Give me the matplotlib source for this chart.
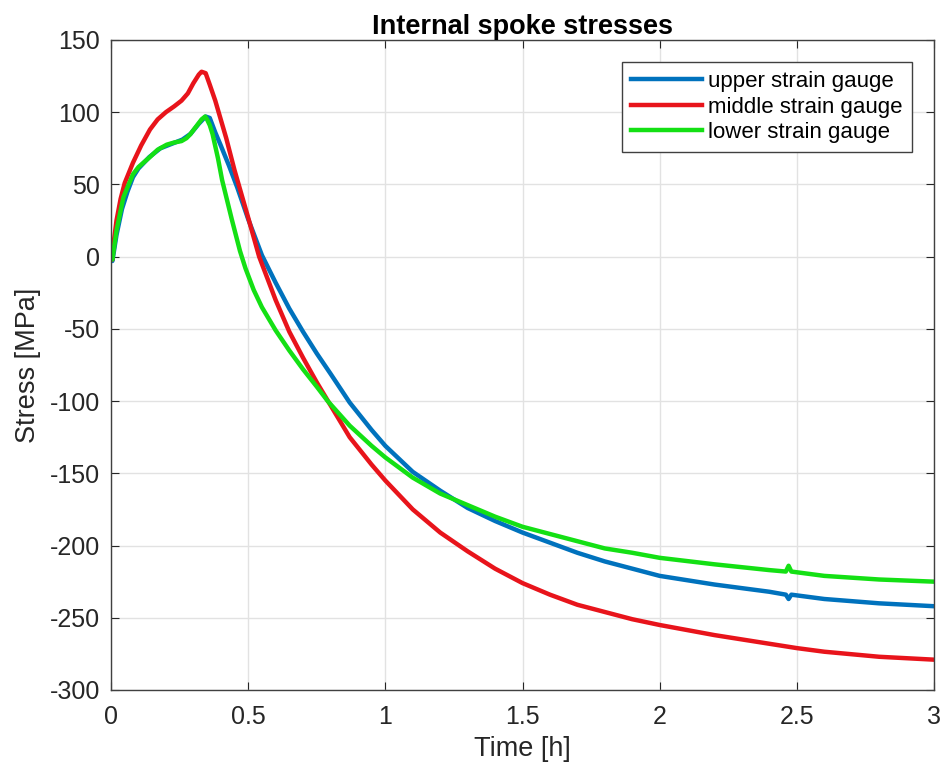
import numpy as np
import matplotlib
matplotlib.use("Agg")
import matplotlib.pyplot as plt

plt.rcParams['font.family'] = ['Liberation Sans', 'DejaVu Sans']
plt.rcParams['axes.unicode_minus'] = False

# upper strain gauge
t_upper = [0, 0.005, 0.01, 0.02, 0.04, 0.06, 0.08, 0.1, 0.14, 0.18, 0.22, 0.26, 0.29,
           0.32, 0.345, 0.36, 0.38, 0.4, 0.43, 0.46, 0.5, 0.55, 0.6, 0.65, 0.7, 0.75,
           0.8, 0.87, 0.95, 1.0, 1.1, 1.2, 1.3, 1.4, 1.5, 1.6, 1.7, 1.8, 1.9, 2.0,
           2.2, 2.4, 2.46, 2.47, 2.48, 2.6, 2.8, 3.0]
s_upper = [0, -3, 3, 15, 33, 45, 55, 61, 69, 75, 78, 81, 85,
           92, 97, 96, 86, 77, 63, 48, 26, 1, -18, -36, -52, -67,
           -81, -101, -120, -131, -149, -162, -174, -183, -191, -198, -205, -211, -216, -221,
           -227, -232, -234, -237, -234, -237, -240, -242]

# middle strain gauge
t_middle = [0, 0.005, 0.01, 0.02, 0.035, 0.05, 0.08, 0.11, 0.142, 0.17, 0.2, 0.23, 0.257,
            0.28, 0.3, 0.32, 0.33, 0.345, 0.36, 0.38, 0.4, 0.42, 0.45, 0.5, 0.54, 0.6,
            0.65, 0.7, 0.75, 0.81, 0.87, 0.95, 1.0, 1.1, 1.2, 1.3, 1.4, 1.5, 1.6, 1.7,
            1.8, 1.9, 2.0, 2.2, 2.4, 2.5, 2.6, 2.8, 3.0]
s_middle = [0, -2, 10, 25, 40, 51, 65, 77, 88, 95, 100, 104, 108,
            113, 120, 126, 128, 127, 119, 108, 95, 82, 60, 27, 0, -30,
            -52, -70, -87, -106, -125, -144, -155, -175, -191, -204, -216, -226, -234, -241,
            -246, -251, -255, -262, -268, -271, -273.5, -277, -279]

# lower strain gauge
t_lower = [0, 0.005, 0.01, 0.02, 0.045, 0.06, 0.08, 0.1, 0.142, 0.17, 0.203, 0.23, 0.257,
           0.275, 0.288, 0.31, 0.33, 0.343, 0.35, 0.36, 0.37, 0.39, 0.405, 0.44, 0.47, 0.49,
           0.52, 0.55, 0.6, 0.65, 0.7, 0.75, 0.79, 0.87, 0.95, 1.0, 1.1, 1.2, 1.3, 1.4, 1.5,
           1.6, 1.7, 1.8, 1.9, 2.0, 2.2, 2.4, 2.46, 2.47, 2.48, 2.6, 2.8, 3.0]
s_lower = [0, -2, 5, 18, 41, 48, 57, 62, 69, 74, 77.5, 79, 80,
           82, 84.5, 90, 95, 97, 95, 91, 85, 68, 53, 26, 4, -8,
           -23, -35, -51, -65, -78, -90, -100, -117, -131, -139, -153, -164, -172, -180, -187,
           -192, -197, -202, -205, -208.5, -213, -217, -218, -214, -218, -221, -223.5, -225]

fig = plt.figure(figsize=(9.44, 7.7), dpi=100)
ax = fig.add_axes([0.1176, 0.1039, 0.8718, 0.8442])

ax.plot(t_upper, s_upper, color='#0072BD', lw=3.2, label='upper strain gauge')
ax.plot(t_middle, s_middle, color='#E8141B', lw=3.2, label='middle strain gauge')
ax.plot(t_lower, s_lower, color='#14E014', lw=3.2, label='lower strain gauge')

ax.set_xlim(0, 3)
ax.set_ylim(-300, 150)
ax.set_xticks(np.arange(0, 3.01, 0.5))
ax.set_xticklabels(['0', '0.5', '1', '1.5', '2', '2.5', '3'])
ax.set_yticks(np.arange(-300, 151, 50))
ax.grid(True, color='#e2e2e2', lw=1)
ax.set_axisbelow(True)
ax.tick_params(direction='in', top=True, right=True, labelsize=18, colors='#262626',
               length=6)
ax.tick_params(axis='x', pad=11)
ax.tick_params(axis='y', pad=8)
for sp in ax.spines.values():
    sp.set_color('#404040')
    sp.set_linewidth(1)

ax.set_title('Internal spoke stresses', fontsize=19.5, fontweight='bold', pad=4)
ax.set_xlabel('Time [h]', fontsize=19.5, color='#262626', labelpad=5)
ax.set_ylabel('Stress [MPa]', fontsize=19.5, color='#262626', labelpad=6)

leg = ax.legend(loc='upper right', fontsize=16, fancybox=False, framealpha=1,
                edgecolor='#404040', handlelength=3.2, handletextpad=0.3,
                borderaxespad=1.0, labelspacing=0.2, borderpad=0.4)
leg.get_frame().set_linewidth(1)

fig.savefig('out.png', dpi=100)
